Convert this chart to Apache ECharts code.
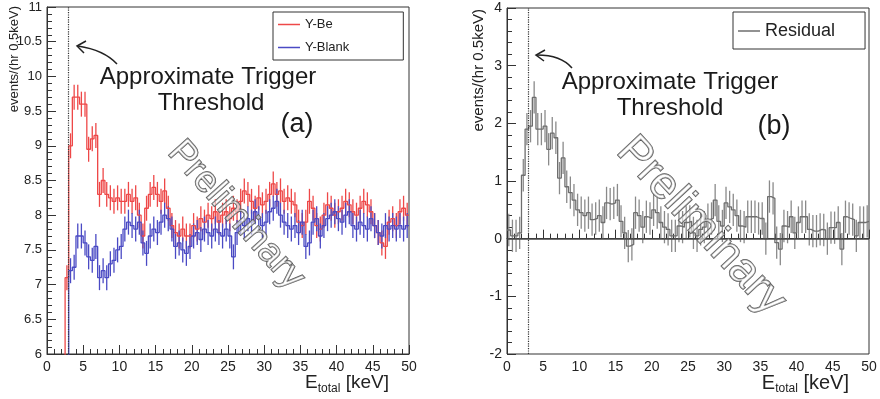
<!DOCTYPE html>
<html>
<head>
<meta charset="utf-8">
<script src="https://cdn.jsdelivr.net/npm/echarts@6/dist/echarts.min.js"></script>
<style>
  html, body { margin: 0; padding: 0; background: #fff; }
  #chart { width: 880px; height: 399px; }
</style>
</head>
<body>
<div id="chart"></div>
<script>
// histogram bins: 0.5 keV wide, 0..50 keV (100 bins); 0 = below the plotted range
const binWidth = 0.5;

const yBe = [
  0, 0, 0, 0, 0, 7.1, 9.0, 9.7, 9.7, 9.6,
  9.6, 8.95, 9.1, 9.15, 8.3, 8.5, 8.3, 8.25, 8.2, 8.25,
  8.2, 8.2, 8.3, 8.2, 8.25, 8.0, 7.7, 8.1, 8.3, 8.4,
  8.3, 8.2, 8.35, 8.1, 7.85, 7.75, 7.7, 7.8, 7.7, 7.7,
  7.85, 7.8, 7.95, 7.9, 8.0, 7.95, 8.05, 7.9, 8.0, 8.05,
  7.95, 8.1, 8.05, 8.2, 8.35, 8.3, 8.2, 8.1, 8.25, 8.15,
  8.2, 8.3, 8.45, 8.3, 8.35, 8.2, 8.25, 8.2, 8.15, 7.9,
  7.85, 7.9, 8.2, 8.1, 7.85, 7.8, 8.0, 8.15, 8.1, 8.0,
  8.05, 8.1, 8.2, 8.15, 8.05, 8.0, 8.1, 8.2, 8.15, 8.05,
  7.85, 7.75, 7.6, 7.55, 7.9, 7.95, 7.85, 8.05, 8.1, 8.0
];

const yBlank = [
  0, 0, 0, 0, 0, 0, 7.2, 7.25, 7.7, 7.7,
  7.6, 7.4, 7.35, 7.55, 7.1, 7.2, 7.1, 7.3, 7.35, 7.5,
  7.55, 7.8, 7.9, 7.85, 7.8, 7.9, 7.6, 7.45, 7.7, 7.8,
  7.75, 7.9, 8.0, 7.95, 7.8, 7.55, 7.6, 7.5, 7.45, 7.55,
  7.7, 7.75, 7.65, 7.8, 7.75, 7.7, 7.8, 7.75, 7.7, 7.8,
  7.7, 7.4, 7.75, 7.9, 7.85, 7.95, 7.9, 8.05, 7.95, 7.85,
  7.9, 8.05, 8.1, 8.2, 8.0, 7.9, 7.85, 7.8, 7.85, 7.75,
  7.9, 7.55, 7.6, 7.9, 7.95, 7.7, 7.85, 7.95, 8.0, 8.05,
  7.95, 7.9, 8.0, 8.05, 7.85, 7.8, 7.9, 7.85, 7.8, 7.95,
  7.85, 7.75, 7.7, 7.85, 7.8, 7.85, 7.8, 7.85, 7.8, 7.85
];

const residual = [
  0.15, 0.05, 0.05, 0.1, 1.1, 1.9, 1.95, 2.45, 1.9, 1.9,
  1.95, 1.55, 1.83, 1.75, 1.05, 1.4, 0.9, 0.8, 0.67, 0.5,
  0.45, 0.4, 0.45, 0.33, 0.35, 0.4, 0.28, 0.62, 0.6, 0.62,
  0.67, 0.3, 0.1, -0.13, -0.1, 0.45, 0.4, 0.2, 0.38, 0.35,
  0.5, 0.45, 0.28, 0.2, 0.16, 0.05, 0.05, 0.22, 0.2, 0.28,
  0.3, 0.1, 0.05, 0.16, 0.2, 0.33, 0.35, 0.67, 0.3, 0.22,
  0.62, 0.55, 0.5, 0.4, 0.22, 0.2, 0.38, 0.38, 0.38, 0.35,
  0.35, 0.0, 0.73, 0.7, -0.07, -0.18, 0.22, 0.2, 0.38, 0.1,
  0.28, 0.38, 0.38, 0.16, 0.13, 0.13, 0.16, 0.15, 0.0, 0.19,
  0.19, 0.28, -0.18, 0.38, 0.35, 0.33, 0.05, 0.28, 0.28, 0.3
];

// half-length of the error bars
const errYBe = 0.18;
const errYBlank = 0.18;
const errResidual = 0.28;

const threshold = 3; // keV, dotted line

const FONT = 'Liberation Sans, Arial, Helvetica, sans-serif';
const RED = '#ee4848';
const BLUE = '#4a4ac4';
const GREY = '#6e6e6e';

// step outline: point at each bin's left edge + closing point at 50 keV
function stepData(vals) {
  const pts = vals.map((v, i) => [i * binWidth, v]);
  pts.push([vals.length * binWidth, vals[vals.length - 1]]);
  return pts;
}

function errData(vals, err, skipEmpty) {
  return vals
    .map((v, i) => [(i + 0.5) * binWidth, v, err])
    .filter(d => !skipEmpty || d[1] > 0);
}

function errorBar(params, api) {
  const x = api.value(0), v = api.value(1), e = api.value(2);
  const top = api.coord([x, v + e]);
  const bot = api.coord([x, v - e]);
  return {
    type: 'line',
    shape: { x1: top[0], y1: top[1], x2: bot[0], y2: bot[1] },
    style: { stroke: api.visual('color'), lineWidth: 1.3 }
  };
}

function xAxisCfg(gridIndex, fs) {
  return {
    gridIndex, type: 'value', min: 0, max: 50, interval: 5,
    axisLine: { lineStyle: { color: '#333' } },
    axisTick: { inside: true, length: 9, lineStyle: { color: '#333' } },
    minorTick: { show: true, splitNumber: 5, length: 5, lineStyle: { color: '#333' } },
    axisLabel: { color: '#222', fontSize: fs, fontFamily: FONT, margin: 6 },
    splitLine: { show: false }
  };
}

function yAxisCfg(gridIndex, min, max, interval, fs) {
  return {
    gridIndex, type: 'value', min, max, interval,
    axisLine: { show: true, lineStyle: { color: '#333' } },
    axisTick: { show: true, inside: true, length: 9, lineStyle: { color: '#333' } },
    minorTick: { show: true, splitNumber: 5, length: 5, lineStyle: { color: '#333' } },
    axisLabel: { color: '#222', fontSize: fs, fontFamily: FONT, margin: 5 },
    splitLine: { show: false }
  };
}

const chart = echarts.init(document.getElementById('chart'));

chart.setOption({
  animation: false,
  grid: [
    { left: 47, top: 7, width: 362, height: 347, show: true, borderColor: '#333', borderWidth: 1 },
    { left: 507, top: 8, width: 362, height: 346, show: true, borderColor: '#333', borderWidth: 1 }
  ],
  xAxis: [xAxisCfg(0, 14), xAxisCfg(1, 14)],
  yAxis: [yAxisCfg(0, 6, 11, 0.5, 13), yAxisCfg(1, -2, 4, 1, 14)],
  legend: [
    {
      data: ['Y-Be', 'Y-Blank'], orient: 'vertical', left: 273, top: 12,
      icon: 'rect', padding: [6, 54, 6, 5], itemGap: 10, itemWidth: 22, itemHeight: 1.5,
      borderColor: '#333', borderWidth: 1,
      textStyle: { fontSize: 13, fontFamily: FONT, color: '#222' }
    },
    {
      data: ['Residual'], orient: 'vertical', left: 733, top: 12,
      icon: 'rect', padding: [10, 30, 9, 5], itemWidth: 22, itemHeight: 1.5,
      borderColor: '#333', borderWidth: 1,
      textStyle: { fontSize: 18, fontFamily: FONT, color: '#222' }
    }
  ],
  series: [
    {
      name: 'Y-Be', type: 'line', xAxisIndex: 0, yAxisIndex: 0, step: 'end',
      symbol: 'none', color: RED, lineStyle: { width: 1.3 },
      data: stepData(yBe),
      markLine: {
        silent: true, symbol: 'none', label: { show: false },
        lineStyle: { color: '#333', type: 'dotted', width: 1.2 },
        data: [{ xAxis: threshold }]
      }
    },
    {
      name: 'Y-Blank', type: 'line', xAxisIndex: 0, yAxisIndex: 0, step: 'end',
      symbol: 'none', color: BLUE, lineStyle: { width: 1.3 },
      data: stepData(yBlank)
    },
    {
      name: 'Y-Be err', type: 'custom', xAxisIndex: 0, yAxisIndex: 0, color: RED,
      renderItem: errorBar, clip: true, data: errData(yBe, errYBe, true)
    },
    {
      name: 'Y-Blank err', type: 'custom', xAxisIndex: 0, yAxisIndex: 0, color: BLUE,
      renderItem: errorBar, clip: true, data: errData(yBlank, errYBlank, true)
    },
    {
      name: 'Residual', type: 'line', xAxisIndex: 1, yAxisIndex: 1, step: 'end',
      symbol: 'none', color: GREY, lineStyle: { width: 1.3 },
      data: stepData(residual),
      markLine: {
        silent: true, symbol: 'none', label: { show: false },
        data: [
          { xAxis: threshold, lineStyle: { color: '#333', type: 'dotted', width: 1.2 } },
          { yAxis: 0, lineStyle: { color: '#444', type: 'solid', width: 1.5 } }
        ]
      }
    },
    {
      name: 'Residual err', type: 'custom', xAxisIndex: 1, yAxisIndex: 1, color: '#8a8a8a',
      renderItem: errorBar, clip: true, data: errData(residual, errResidual, false)
    }
  ],
  graphic: [
    // y axis titles
    { type: 'text', x: 14, y: 6, rotation: Math.PI / 2,
      style: { text: 'events/(hr 0.5keV)', font: '13px ' + FONT, fill: '#222', align: 'right', verticalAlign: 'middle' } },
    { type: 'text', x: 479, y: 9, rotation: Math.PI / 2,
      style: { text: 'events/(hr 0.5keV)', font: '15px ' + FONT, fill: '#222', align: 'right', verticalAlign: 'middle' } },
    // x axis titles
    { type: 'text', x: 389, y: 383,
      style: { text: '{e|E}{s|total}{e| [keV]}', align: 'right', verticalAlign: 'middle', fill: '#222',
        rich: { e: { font: '19px ' + FONT, fill: '#222' }, s: { font: '12px ' + FONT, fill: '#222', padding: [12, 0, 0, 0] } } } },
    { type: 'text', x: 849, y: 383,
      style: { text: '{e|E}{s|total}{e| [keV]}', align: 'right', verticalAlign: 'middle', fill: '#222',
        rich: { e: { font: '20px ' + FONT, fill: '#222' }, s: { font: '12px ' + FONT, fill: '#222', padding: [12, 0, 0, 0] } } } },
    // annotations, panel (a)
    { type: 'text', x: 208, y: 77, z: 10,
      style: { text: 'Approximate Trigger', font: '24px ' + FONT, fill: '#1a1a1a', align: 'center', verticalAlign: 'middle' } },
    { type: 'text', x: 211, y: 103, z: 10,
      style: { text: 'Threshold', font: '24px ' + FONT, fill: '#1a1a1a', align: 'center', verticalAlign: 'middle' } },
    { type: 'text', x: 297, y: 125, z: 10,
      style: { text: '(a)', font: '27px ' + FONT, fill: '#1a1a1a', align: 'center', verticalAlign: 'middle' } },
    { type: 'bezierCurve', z: 10,
      shape: { x1: 117, y1: 64, cpx1: 104, cpy1: 50, x2: 78, y2: 46 },
      style: { stroke: '#222', lineWidth: 1.5, fill: null } },
    { type: 'polyline', z: 10,
      shape: { points: [[86, 41], [77, 46], [84, 53]] },
      style: { stroke: '#222', lineWidth: 1.5, fill: null } },
    // annotations, panel (b)
    { type: 'text', x: 670, y: 82, z: 10,
      style: { text: 'Approximate Trigger', font: '24px ' + FONT, fill: '#1a1a1a', align: 'center', verticalAlign: 'middle' } },
    { type: 'text', x: 670, y: 108, z: 10,
      style: { text: 'Threshold', font: '24px ' + FONT, fill: '#1a1a1a', align: 'center', verticalAlign: 'middle' } },
    { type: 'text', x: 774, y: 127, z: 10,
      style: { text: '(b)', font: '27px ' + FONT, fill: '#1a1a1a', align: 'center', verticalAlign: 'middle' } },
    { type: 'bezierCurve', z: 10,
      shape: { x1: 572, y1: 68, cpx1: 561, cpy1: 55, x2: 537, y2: 55 },
      style: { stroke: '#222', lineWidth: 1.5, fill: null } },
    { type: 'polyline', z: 10,
      shape: { points: [[545, 50], [536, 55], [544, 61]] },
      style: { stroke: '#222', lineWidth: 1.5, fill: null } },
    // "Preliminary" watermarks
    { type: 'text', x: 236, y: 215, rotation: -0.84, z: 20,
      style: { text: 'Preliminary', font: '37px ' + FONT, fill: 'rgba(255,255,255,0.55)', stroke: '#555',
        lineWidth: 1.4, align: 'center', verticalAlign: 'middle' } },
    { type: 'text', x: 701, y: 226, rotation: -0.82, z: 20,
      style: { text: 'Preliminary', font: '45px ' + FONT, fill: 'rgba(255,255,255,0.55)', stroke: '#555',
        lineWidth: 1.4, align: 'center', verticalAlign: 'middle' } }
  ]
});
</script>
</body>
</html>
